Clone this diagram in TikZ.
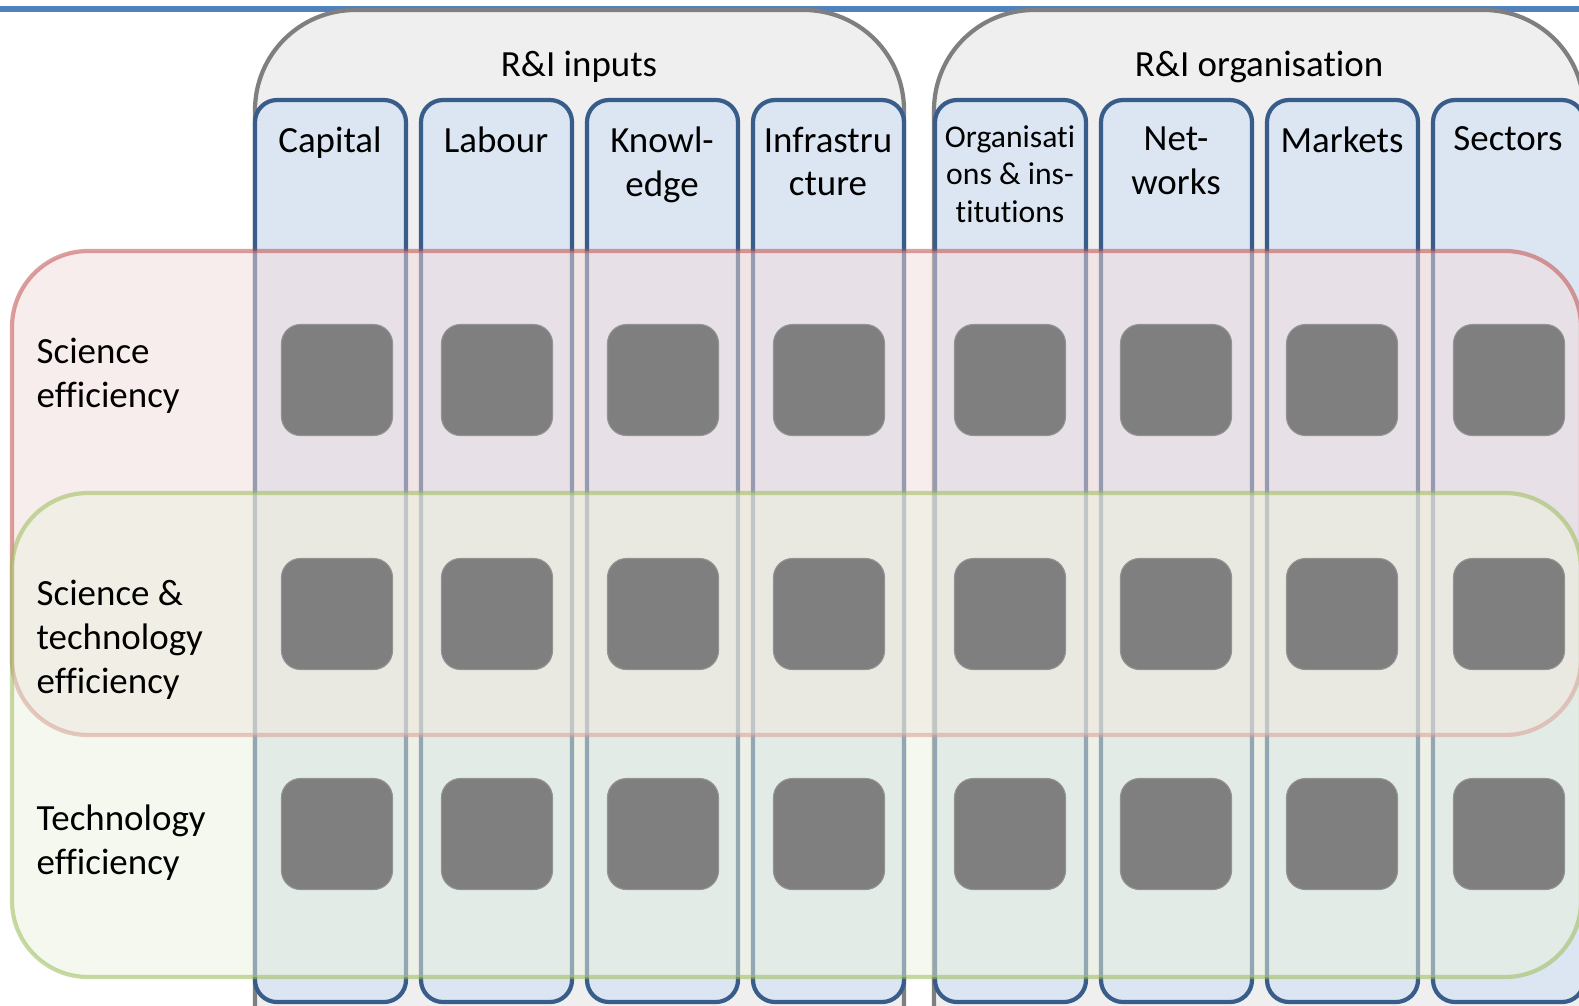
\documentclass[tikz,border=0pt]{standalone}
\usepackage{fontspec}
\setmainfont{Carlito}[Ligatures=NoCommon]
\usepackage{tikz}
\usetikzlibrary{positioning}

\definecolor{topblue}{HTML}{4F81BD}
\definecolor{groupline}{HTML}{7F7F7F}
\definecolor{groupfill}{HTML}{EFEFEF}
\definecolor{colline}{HTML}{385D8A}
\definecolor{colfill}{HTML}{DCE6F2}
\definecolor{sciline}{HTML}{C0504D}
\definecolor{scifill}{HTML}{F2DCDB}
\definecolor{techline}{HTML}{9BBB59}
\definecolor{techfill}{HTML}{EBF1DE}
\definecolor{cellgrey}{HTML}{7F7F7F}

\tikzset{
  group/.style={draw=groupline, fill=groupfill, line width=1.2pt, rounded corners=1cm},
  column/.style={draw=colline, fill=colfill, line width=1.2pt, rounded corners=0.22cm},
  band/.style={line width=1.2pt, rounded corners=0.76cm, fill opacity=0.5, draw opacity=0.55},
  cell/.style={fill=cellgrey, draw=gray!85, line width=0.3pt, rounded corners=0.19cm,
    minimum width=1.11cm, minimum height=1.11cm, inner sep=0pt},
  head/.style={anchor=north, align=center, inner sep=0pt, font=\fontsize{10.5}{12.5}\selectfont},
  smallhead/.style={head, font=\fontsize{9}{10.6}\selectfont},
  rowlabel/.style={anchor=north west, align=left, inner sep=0pt, font=\fontsize{10.5}{12.5}\selectfont},
}

\begin{document}
\begin{tikzpicture}[x=0.01cm, y=-0.01cm]
      \useasboundingbox (0,0) rectangle (1579,1005);
      \clip (0,0) rectangle (1579,1005);
      % Rule along the top
      \draw[topblue, line width=1.8pt] (0,9) -- (1579,9);
      % Input and organisation groups
      \draw[group] (255,10) rectangle (904,1150);
      \draw[group] (934,10) rectangle (1584,1150);
      \node[head, anchor=base] (inputs) at (579,76) {R\&I inputs};
      \node[head, anchor=base] (organisation) at (1259,76) {R\&I organisation};
      % Columns
      \foreach \x in {255,421,587,753,935,1101,1267,1433}
        \draw[column] (\x,100) rectangle ++(151,902);
      % Column headings
      \node[head] (capital) at (330,126) {Capital};
      \node[head] (labour) at (496,126) {Labour};
      \node[head] (knowledge) at (662,126) {Knowl-\\edge};
      \node[head] (infra) at (828,126) {Infrastru\\cture};
      \node[smallhead] (orgs) at (1010,125) {Organisati\\ons \& ins-\\titutions};
      \node[head] (networks) at (1176,126) {Net-\\works};
      \node[head] (markets) at (1342,126) {Markets};
      \node[head] (sectors) at (1508,126) {Sectors};
      % Efficiency bands
      \draw[band, draw=sciline, fill=scifill] (12,251) rectangle (1581,735);
      \draw[band, draw=techline, fill=techfill] (12,493) rectangle (1581,977);
      % Cells
      \foreach \y [count=\r] in {380,614,834}
        \foreach \x [count=\c] in {337,497,663,829,1010,1176,1342,1509}
          \node[cell] (cell-\r-\c) at (\x,\y) {};
      % Row labels
      \node[rowlabel] (science) at (36,337) {Science\\efficiency};
      \node[rowlabel] (scitech) at (36,579) {Science \&\\technology\\efficiency};
      \node[rowlabel] (tech) at (36,804) {Technology\\efficiency};
\end{tikzpicture}
\end{document}
